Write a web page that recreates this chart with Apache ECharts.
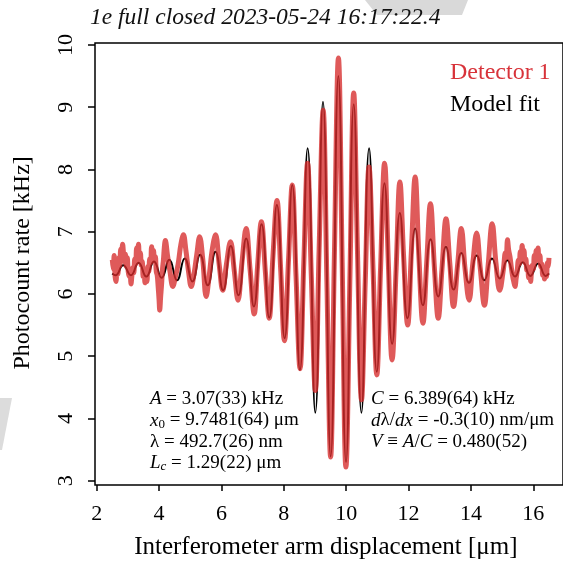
<!DOCTYPE html>
<html>
<head>
<meta charset="utf-8">
<script src="https://cdn.jsdelivr.net/npm/echarts@6/dist/echarts.min.js"></script>
<style>
  html, body { margin: 0; padding: 0; background: #fff; }
  #chart { width: 563px; height: 571px; }
</style>
</head>
<body>
<div id="chart"></div>
<script>
// model fit: extrema (µm, kHz)
const fitX = [2.500, 2.604, 2.850, 3.096, 3.343, 3.589, 3.836, 4.082, 4.328, 4.575,
  4.821, 5.067, 5.314, 5.560, 5.806, 6.053, 6.299, 6.546, 6.792, 7.038,
  7.285, 7.531, 7.777, 8.024, 8.270, 8.516, 8.763, 9.009, 9.255, 9.502,
  9.748, 9.994, 10.241, 10.487, 10.733, 10.980, 11.226, 11.473, 11.719, 11.965,
  12.212, 12.458, 12.704, 12.951, 13.197, 13.443, 13.690, 13.936, 14.182, 14.429,
  14.675, 14.922, 15.168, 15.414, 15.660, 15.907, 16.153, 16.400, 16.500];
const fitY = [6.33, 6.30, 6.46, 6.30, 6.50, 6.28, 6.52, 6.26, 6.55, 6.22,
  6.57, 6.20, 6.63, 6.14, 6.68, 6.06, 6.77, 5.98, 6.89, 5.80,
  7.12, 5.62, 7.43, 5.29, 7.75, 4.78, 8.34, 4.09, 9.09, 3.39,
  9.50, 3.30, 9.05, 4.09, 8.34, 4.75, 7.78, 5.20, 7.30, 5.61,
  7.05, 5.82, 6.88, 5.96, 6.76, 6.07, 6.66, 6.18, 6.62, 6.22,
  6.57, 6.25, 6.54, 6.28, 6.51, 6.29, 6.49, 6.29, 6.33];

// detector 1: noisy measured trace
const detX = [2.50, 2.53, 2.56, 2.59, 2.62, 2.65, 2.68, 2.71, 2.74, 2.77,
  2.80, 2.83, 2.86, 2.89, 2.92, 2.95, 2.98, 3.01, 3.04, 3.07,
  3.10, 3.13, 3.16, 3.19, 3.22, 3.25, 3.28, 3.31, 3.34, 3.37,
  3.40, 3.43, 3.46, 3.49, 3.52, 3.55, 3.58, 3.61, 3.64, 3.67,
  3.70, 3.73, 3.76, 3.79, 3.82, 3.85, 3.88, 3.91, 3.94, 3.97,
  4.00, 4.02, 4.05, 4.08, 4.11, 4.14, 4.17, 4.20, 4.27, 4.35,
  4.44, 4.52, 4.61, 4.70, 4.78, 4.86, 4.95, 5.03, 5.12, 5.21,
  5.30, 5.40, 5.51, 5.60, 5.70, 5.81, 5.93, 6.04, 6.16, 6.29,
  6.41, 6.53, 6.66, 6.79, 6.92, 7.05, 7.16, 7.28, 7.41, 7.53,
  7.65, 7.78, 7.90, 8.02, 8.15, 8.27, 8.39, 8.52, 8.64, 8.76,
  8.88, 9.01, 9.13, 9.26, 9.38, 9.50, 9.62, 9.75, 9.87, 9.99,
  10.12, 10.24, 10.36, 10.49, 10.61, 10.73, 10.86, 10.98, 11.10, 11.23,
  11.35, 11.47, 11.60, 11.72, 11.84, 11.97, 12.09, 12.21, 12.33, 12.46,
  12.58, 12.70, 12.83, 12.95, 13.07, 13.20, 13.32, 13.44, 13.57, 13.69,
  13.81, 13.94, 14.06, 14.18, 14.30, 14.43, 14.55, 14.68, 14.80, 14.92,
  15.04, 15.10, 15.13, 15.17, 15.21, 15.25, 15.29, 15.33, 15.37, 15.41,
  15.45, 15.48, 15.52, 15.55, 15.58, 15.61, 15.64, 15.67, 15.70, 15.73,
  15.76, 15.79, 15.82, 15.85, 15.88, 15.91, 15.94, 15.97, 16.00, 16.03,
  16.06, 16.09, 16.12, 16.15, 16.18, 16.21, 16.24, 16.27, 16.30, 16.33,
  16.36, 16.39, 16.42, 16.45, 16.48, 16.50];
const detY = [6.55, 6.40, 6.62, 6.28, 6.20, 6.45, 6.32, 6.58, 6.45, 6.72,
  6.60, 6.80, 6.66, 6.52, 6.64, 6.44, 6.58, 6.36, 6.28, 6.40,
  6.16, 6.30, 6.42, 6.34, 6.56, 6.48, 6.74, 6.62, 6.80, 6.58,
  6.66, 6.46, 6.52, 6.28, 6.36, 6.18, 6.26, 6.20, 6.44, 6.36,
  6.56, 6.50, 6.76, 6.62, 6.70, 6.52, 6.60, 6.36, 6.30, 6.12,
  5.90, 5.74, 5.95, 6.15, 6.40, 6.55, 6.76, 6.86, 6.62, 6.36,
  6.12, 6.26, 6.48, 6.80, 6.95, 6.70, 6.34, 6.12, 6.32, 6.64,
  6.92, 6.56, 5.96, 6.26, 6.70, 6.95, 6.46, 6.06, 6.48, 6.84,
  6.38, 5.90, 6.52, 7.05, 6.38, 5.68, 6.46, 7.16, 6.34, 5.61,
  6.60, 7.50, 6.38, 5.25, 6.55, 7.75, 6.30, 4.80, 6.50, 8.10,
  6.30, 4.45, 6.70, 8.95, 6.20, 3.38, 6.60, 9.79, 6.50, 3.22,
  6.30, 9.23, 6.70, 4.30, 6.20, 8.04, 6.40, 4.70, 6.40, 8.10,
  6.50, 4.94, 6.40, 7.80, 6.60, 5.50, 6.70, 7.88, 6.60, 5.53,
  6.50, 7.45, 6.40, 5.61, 6.40, 7.21, 6.50, 5.80, 6.46, 7.05,
  6.40, 5.90, 6.50, 6.98, 6.40, 5.82, 6.46, 7.13, 6.50, 6.06,
  6.40, 6.66, 6.58, 6.87, 6.70, 6.60, 6.44, 6.30, 6.20, 6.12,
  6.26, 6.36, 6.54, 6.48, 6.68, 6.60, 6.78, 6.62, 6.70, 6.50,
  6.56, 6.38, 6.44, 6.26, 6.32, 6.20, 6.36, 6.46, 6.40, 6.62,
  6.52, 6.70, 6.56, 6.74, 6.54, 6.62, 6.44, 6.48, 6.30, 6.36,
  6.24, 6.34, 6.28, 6.50, 6.44, 6.58];

const serif = 'Liberation Serif';
const red = '#d62c2c';

const chart = echarts.init(document.getElementById('chart'));

const rich = {
  i: { fontFamily: serif, fontSize: 19, fontStyle: 'italic', lineHeight: 21 },
  s: { fontFamily: serif, fontSize: 13, lineHeight: 13, verticalAlign: 'bottom' },
  si: { fontFamily: serif, fontSize: 13, fontStyle: 'italic', lineHeight: 13, verticalAlign: 'bottom' }
};
const note = (left, top, text) => ({
  type: 'text', left, top,
  style: { text, fontFamily: serif, fontSize: 19, lineHeight: 21, fill: '#000', rich }
});

chart.setOption({
  animation: false,
  backgroundColor: '#fff',
  title: {
    text: '1e full closed 2023-05-24 16:17:22.4',
    left: 90, top: 6, padding: 0,
    textStyle: { fontFamily: serif, fontStyle: 'italic', fontWeight: 'normal', fontSize: 23.5, color: '#111' }
  },
  grid: [
    // frame box
    { left: 95, top: 43, width: 480, height: 442, show: true, borderColor: '#000', borderWidth: 1.5 },
    // data area
    { left: 96.7, top: 45, width: 467.9, height: 435.7 }
  ],
  xAxis: [
    { gridIndex: 0, type: 'value', show: false },
    {
      gridIndex: 1, type: 'value', min: 2, max: 16.95, interval: 2, offset: 4.3,
      axisLine: { show: false },
      axisTick: { length: 6, lineStyle: { color: '#000', width: 1.5 } },
      axisLabel: { fontFamily: serif, fontSize: 22, color: '#000', margin: 18, showMaxLabel: false },
      splitLine: { show: false },
      name: 'Interferometer arm displacement [μm]',
      nameLocation: 'middle', nameGap: 50,
      nameTextStyle: { fontFamily: serif, fontSize: 25, color: '#000', padding: [0, 8, 0, 0] }
    }
  ],
  yAxis: [
    { gridIndex: 0, type: 'value', show: false },
    {
      gridIndex: 1, type: 'value', min: 3, max: 10, interval: 1, offset: 1.7,
      axisLine: { show: false },
      axisTick: { length: 7, lineStyle: { color: '#000', width: 1.5 } },
      axisLabel: { fontFamily: serif, fontSize: 22, color: '#000', margin: 18, rotate: 90 },
      splitLine: { show: false },
      name: 'Photocount rate [kHz]',
      nameLocation: 'middle', nameGap: 60,
      nameTextStyle: { fontFamily: serif, fontSize: 24, color: '#000' }
    }
  ],
  series: [
    {
      name: 'Model fit', type: 'line', xAxisIndex: 1, yAxisIndex: 1,
      data: fitX.map((x, i) => [x, fitY[i]]),
      smooth: 0.5, symbol: 'none',
      lineStyle: { color: '#000', width: 2 }
    },
    {
      name: 'Detector 1', type: 'line', xAxisIndex: 1, yAxisIndex: 1,
      data: detX.map((x, i) => [x, detY[i]]),
      smooth: 0.4, symbol: 'none',
      lineStyle: { color: red, width: 5, opacity: 0.78 }
    }
  ],
  graphic: [
    // light grey patches at the picture edges
    { type: 'polygon', shape: { points: [[365, 0], [468, 0], [462, 15], [377, 15]] }, style: { fill: '#d9d9d9' }, silent: true },
    { type: 'polygon', shape: { points: [[0, 398], [12, 398], [2, 450], [0, 450]] }, style: { fill: '#dcdcdc' }, silent: true },
    { type: 'text', left: 450, top: 61, style: { text: 'Detector 1', fontFamily: serif, fontSize: 24, fill: '#d8333a' } },
    { type: 'text', left: 450, top: 93, style: { text: 'Model fit', fontFamily: serif, fontSize: 24, fill: '#000' } },
    note(150, 388.5, '{i|A} = 3.07(33) kHz'),
    note(150, 410, '{i|x}{s|0} = 9.7481(64) μm'),
    note(150, 431.5, 'λ = 492.7(26) nm'),
    note(150, 452.5, '{i|L}{si|c} = 1.29(22) μm'),
    note(371, 388.5, '{i|C} = 6.389(64) kHz'),
    note(371, 410, '{i|d}λ/{i|dx} = -0.3(10) nm/μm'),
    note(371, 431.5, '{i|V} ≡ {i|A}/{i|C} = 0.480(52)')
  ]
});
</script>
</body>
</html>
